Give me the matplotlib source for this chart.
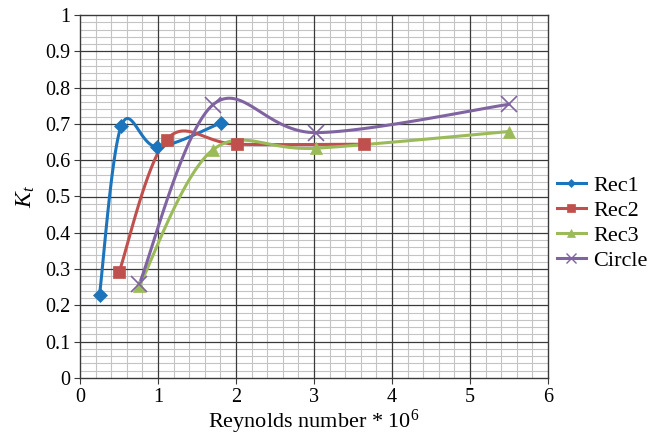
import numpy as np
import matplotlib
matplotlib.use("Agg")
import matplotlib.pyplot as plt
from matplotlib.ticker import MultipleLocator, FuncFormatter

plt.rcParams['font.family'] = ['Liberation Serif', 'DejaVu Serif']
plt.rcParams['mathtext.fontset'] = 'custom'
plt.rcParams['mathtext.rm'] = 'Liberation Serif'
plt.rcParams['mathtext.it'] = 'Liberation Serif:italic'

# data
rec1_x = [0.25, 0.53, 0.99, 1.81]
rec1_y = [0.229, 0.695, 0.637, 0.703]
rec2_x = [0.50, 1.11, 2.01, 3.64]
rec2_y = [0.291, 0.657, 0.644, 0.644]
rec3_x = [0.76, 1.70, 3.03, 5.50]
rec3_y = [0.254, 0.628, 0.633, 0.679]
circ_x = [0.76, 1.70, 3.02, 5.50]
circ_y = [0.259, 0.752, 0.676, 0.754]

series_names = ["Rec1", "Rec2", "Rec3", "Circle"]
series_colors = ["#1c75bc", "#c0504d", "#9bbb59", "#8064a2"]
series_markers = ["D", "s", "^", "x"]
marker_sizes = [7, 9, 9, 11]

# pixels per unit, so the smoothing is done in screen space like Excel does
SX = 78.0
SY = 363.0


def smooth(xs, ys, n=40):
    # Catmull-Rom style cubic bezier through the points
    p = np.column_stack([np.array(xs) * SX, np.array(ys) * SY])
    out = []
    for i in range(len(p) - 1):
        p0 = p[i - 1] if i > 0 else p[i]
        p1 = p[i]
        p2 = p[i + 1]
        p3 = p[i + 2] if i + 2 < len(p) else p[i + 1]
        c1 = p1 + (p2 - p0) / 6.0
        c2 = p2 - (p3 - p1) / 6.0
        t = np.linspace(0, 1, n)[:, None]
        seg = ((1 - t) ** 3) * p1 + 3 * ((1 - t) ** 2) * t * c1 + 3 * (1 - t) * t ** 2 * c2 + t ** 3 * p2
        out.append(seg if i == 0 else seg[1:])
    out = np.vstack(out)
    return out[:, 0] / SX, out[:, 1] / SY


fig = plt.figure(figsize=(6.66, 4.41), dpi=100)
ax = fig.add_axes([80 / 666, 63 / 441, 468 / 666, 363 / 441])

ax.set_xlim(0, 6)
ax.set_ylim(0, 1)
ax.xaxis.set_major_locator(MultipleLocator(1))
ax.xaxis.set_minor_locator(MultipleLocator(0.2))
ax.yaxis.set_major_locator(MultipleLocator(0.1))
ax.yaxis.set_minor_locator(MultipleLocator(0.02))
ax.grid(which="minor", color="#c4c4c4", linewidth=0.8, zorder=0)
# major grid drawn on top of the minor one
for v in np.arange(1, 6):
    ax.axvline(v, color="#3a3a3a", linewidth=0.9, zorder=1)
for v in np.arange(0.1, 1.0, 0.1):
    ax.axhline(v, color="#3a3a3a", linewidth=0.9, zorder=1)
ax.set_axisbelow(True)
ax.tick_params(which="minor", length=0)
ax.tick_params(which="major", direction="out", length=4, labelsize=14.5,
               color="#3a3a3a", pad=3)
for s in ax.spines.values():
    s.set_color("#3a3a3a")
    s.set_linewidth(1.0)

ax.yaxis.set_major_formatter(FuncFormatter(lambda v, p: "%g" % round(v, 2)))
ax.xaxis.set_major_formatter(FuncFormatter(lambda v, p: "%g" % round(v, 2)))

all_x = [rec1_x, rec2_x, rec3_x, circ_x]
all_y = [rec1_y, rec2_y, rec3_y, circ_y]
for xs, ys, name, col, mk, ms in zip(all_x, all_y, series_names, series_colors,
                                     series_markers, marker_sizes):
    sx, sy = smooth(xs, ys)
    ax.plot(sx, sy, color=col, linewidth=2.2, zorder=3)
    ax.plot(xs, ys, linestyle="none", marker=mk, color=col, markersize=ms,
            markeredgewidth=1.2 if mk == "x" else 0.5, zorder=4)
    ax.plot([], [], color=col, linewidth=2.2, marker=mk,
            markersize=ms * 0.6, markeredgewidth=1.0 if mk == "x" else 0.5,
            label=name)

ax.set_xlabel("Reynolds number * 10$^6$", fontsize=16, labelpad=1)
ax.set_ylabel("$K_t$", fontsize=17, labelpad=6)

ax.legend(loc="center left", bbox_to_anchor=(1.0, 0.426), frameon=False,
          fontsize=16, handlelength=1.3, labelspacing=0.2, handletextpad=0.35,
          borderaxespad=0.0)

fig.savefig("out.png", dpi=100)
